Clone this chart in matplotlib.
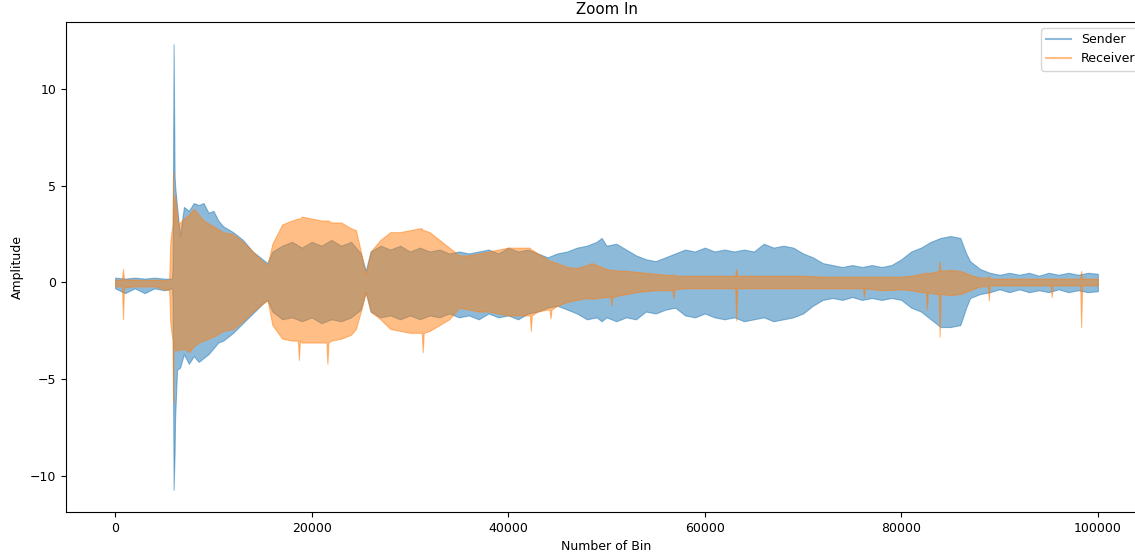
import matplotlib
matplotlib.use("Agg")
import matplotlib.pyplot as plt
from matplotlib.lines import Line2D
import numpy as np

title = "Zoom In"
x_label = "Number of Bin"
y_label = "Amplitude"
series_names = ["Sender", "Receiver"]

# Sender envelope: bin position, upper and lower amplitude
sender_x = [0, 1000, 2000, 3000, 4000, 5000, 5800, 5850, 5950, 6050, 6100, 6300, 6600, 7000, 7500,
            8000, 8500, 9000, 9500, 10000, 10500, 11000, 12000, 13000, 14000, 15000, 15500,
            16000, 17000, 18000, 19000, 20000, 21000, 22000, 23000, 24000, 25000, 25500, 26000,
            27000, 28000, 29000, 30000, 31000, 32000, 33000, 34000, 35000, 36000, 37000, 38000,
            39000, 40000, 41000, 42000, 43000, 44000, 45000, 46000, 47000, 48000, 49000, 49500,
            50000, 51000, 52000, 53000, 54000, 55000, 56000, 57000, 58000, 59000, 60000, 61000,
            62000, 63000, 64000, 65000, 66000, 67000, 68000, 69000, 70000, 71000, 72000, 73000,
            74000, 75000, 76000, 77000, 78000, 79000, 80000, 81000, 82000, 83000, 84000, 85000,
            86000, 86600, 87000, 88000, 89000, 90000, 91000, 92000, 93000, 94000, 95000, 96000,
            97000, 98000, 99000, 99999]
sender_hi = [0.25, 0.20, 0.25, 0.20, 0.25, 0.20, 0.20, 1.0, 12.3, 5.5, 5.0, 3.9, 2.4, 3.9, 3.7,
             4.1, 4.0, 4.1, 3.6, 3.7, 3.2, 2.9, 2.6, 2.2, 1.6, 1.2, 1.0,
             1.6, 1.9, 2.1, 1.8, 2.1, 1.9, 2.2, 1.9, 2.1, 1.5, 0.6, 1.6,
             1.9, 1.7, 1.9, 1.6, 1.8, 1.6, 1.7, 1.5, 1.6, 1.5, 1.6, 1.7,
             1.5, 1.8, 1.6, 1.7, 1.5, 1.3, 1.5, 1.6, 1.8, 1.9, 2.1, 2.3,
             1.9, 2.0, 1.7, 1.4, 1.2, 1.1, 1.3, 1.5, 1.7, 1.6, 1.8, 1.6,
             1.7, 1.6, 1.7, 1.6, 2.0, 1.8, 1.9, 1.8, 1.5, 1.3, 1.0, 0.9,
             0.8, 0.9, 0.8, 0.9, 0.8, 0.9, 1.2, 1.6, 1.8, 2.1, 2.3, 2.4,
             2.3, 1.5, 1.1, 0.7, 0.5, 0.4, 0.5, 0.4, 0.5, 0.35, 0.5, 0.4,
             0.5, 0.4, 0.5, 0.45]
sender_lo = [-0.30, -0.55, -0.30, -0.55, -0.30, -0.40, -0.30, -1.0, -10.7, -8.8, -7.0, -4.5, -4.4, -3.7, -4.2,
             -3.8, -4.1, -3.9, -3.7, -3.4, -3.1, -3.0, -2.6, -2.1, -1.6, -1.1, -0.9,
             -1.5, -1.9, -1.8, -2.0, -1.8, -2.1, -1.9, -2.0, -1.8, -1.4, -0.5, -1.5,
             -1.8, -1.7, -1.9, -1.7, -1.9, -1.7, -1.8, -1.6, -1.8, -1.7, -1.9, -1.6,
             -1.8, -1.7, -1.9, -1.6, -1.5, -1.3, -1.2, -1.4, -1.6, -1.9, -1.8, -2.0,
             -1.8, -2.0, -1.8, -1.9, -1.5, -1.6, -1.4, -1.3, -1.7, -1.8, -1.6, -1.8,
             -1.9, -1.8, -2.0, -1.9, -1.8, -2.0, -1.9, -1.8, -1.6, -1.2, -0.9, -0.8,
             -0.9, -0.75, -0.9, -0.8, -0.9, -0.8, -0.9, -1.3, -1.5, -1.9, -2.3, -2.3,
             -2.2, -1.3, -0.8, -0.6, -0.5, -0.35, -0.5, -0.35, -0.5, -0.4, -0.5, -0.35,
             -0.5, -0.4, -0.5, -0.45]

# Receiver envelope
receiver_x = [0, 700, 800, 900, 2000, 3000, 4000, 5000, 5500, 5600, 5700, 5850, 5900, 5950, 6100,
              6400, 7000, 7500, 8000, 8500, 9000, 10000, 11000, 12000, 13000, 14000, 15000, 15500,
              16000, 17000, 18000, 18600, 18700, 18800, 19000, 20000, 21000, 21500, 21600, 21700,
              22000, 23000, 24000, 24500, 25000, 25500, 26000, 27000, 28000, 29000, 30000, 31000,
              31200, 31300, 31400, 32000, 33000, 34000, 35000, 36000, 37000, 38000, 39000, 40000,
              41000, 42000, 42200, 42300, 42400, 43000, 44000, 44200, 44300, 44400, 45000, 46000,
              47000, 48000, 48500, 49000, 50000, 50400, 50500, 50600, 51000, 52000, 53000, 54000,
              55000, 56000, 56700, 56800, 56900, 57000, 58000, 60000, 62000, 63100, 63200, 63300,
              64000, 66000, 68000, 70000, 72000, 74000, 76100, 76200, 76300, 78000, 80000, 81000,
              82000, 82500, 82600, 82700, 83000, 83800, 83900, 84000, 85000, 86000, 87000, 88000,
              88800, 88900, 89000, 92000, 95200, 95300, 95400, 98200, 98300, 98400, 99999]
receiver_hi = [0.15, 0.15, 0.7, 0.15, 0.15, 0.12, 0.15, 0.12, 0.15, 2.0, 2.5, 3.0, 5.7, 3.0, 4.5,
               3.0, 3.3, 3.5, 3.8, 3.5, 3.2, 2.9, 2.6, 2.5, 2.1, 1.6, 1.1, 0.9,
               2.0, 3.0, 3.2, 3.3, 3.3, 3.3, 3.4, 3.3, 3.2, 3.2, 3.2, 3.2,
               3.1, 3.1, 2.8, 2.7, 1.6, 0.4, 1.6, 2.2, 2.6, 2.6, 2.7, 2.8,
               2.8, 2.7, 2.7, 2.6, 2.2, 1.8, 1.4, 1.4, 1.5, 1.6, 1.7, 1.8,
               1.8, 1.8, 1.8, 1.7, 1.7, 1.5, 1.2, 1.1, 1.1, 1.1, 1.0, 0.8,
               0.75, 0.9, 1.0, 0.9, 0.7, 0.65, 0.65, 0.65, 0.62, 0.6, 0.55, 0.5,
               0.45, 0.4, 0.4, 0.4, 0.4, 0.35, 0.35, 0.35, 0.35, 0.35, 0.7, 0.35,
               0.35, 0.35, 0.35, 0.35, 0.3, 0.3, 0.3, 0.3, 0.3, 0.3, 0.3, 0.35,
               0.45, 0.5, 0.5, 0.5, 0.5, 0.6, 1.1, 0.6, 0.65, 0.6, 0.4, 0.25,
               0.25, 0.36, 0.2, 0.2, 0.2, 0.2, 0.2, 0.2, 0.6, 0.2, 0.2]
receiver_lo = [-0.2, -0.2, -1.9, -0.25, -0.2, -0.2, -0.2, -0.35, -0.4, -2.0, -2.5, -3.0, -6.2, -3.0, -3.5,
               -3.5, -3.4, -3.6, -3.3, -3.1, -3.0, -2.8, -2.5, -2.4, -2.0, -1.5, -1.1, -0.9,
               -2.2, -2.9, -3.0, -3.0, -4.0, -3.0, -3.1, -3.1, -3.1, -3.1, -4.2, -3.1,
               -3.0, -2.9, -2.7, -2.4, -1.5, -0.5, -1.5, -1.9, -2.4, -2.5, -2.6, -2.6,
               -2.6, -3.6, -2.6, -2.5, -2.2, -1.9, -1.3, -1.4, -1.5, -1.5, -1.6, -1.7,
               -1.7, -1.7, -1.7, -2.5, -1.7, -1.5, -1.4, -1.4, -1.85, -1.4, -1.2, -1.0,
               -0.9, -0.8, -0.85, -0.8, -0.75, -0.75, -1.2, -0.75, -0.7, -0.6, -0.5, -0.45,
               -0.4, -0.4, -0.4, -0.82, -0.38, -0.35, -0.3, -0.3, -0.3, -0.3, -1.95, -0.3,
               -0.3, -0.3, -0.3, -0.3, -0.3, -0.3, -0.3, -0.75, -0.3, -0.4, -0.35, -0.4,
               -0.5, -0.5, -1.4, -0.5, -0.55, -0.6, -2.8, -0.6, -0.65, -0.6, -0.4, -0.2,
               -0.2, -0.92, -0.15, -0.15, -0.15, -0.75, -0.15, -0.15, -2.3, -0.15, -0.15]

plt.rcParams["font.size"] = 9
plt.rcParams["savefig.bbox"] = "standard"
fig = plt.figure(figsize=(11.35, 5.58), dpi=100)
ax = fig.add_axes([66 / 1135, 46 / 558, 1081 / 1135, 490 / 558])

colors = ["#1f77b4", "#ff7f0e"]
ax.fill_between(sender_x, sender_lo, sender_hi, color=colors[0], alpha=0.5, linewidth=0.8)
ax.fill_between(receiver_x, receiver_lo, receiver_hi, color=colors[1], alpha=0.5, linewidth=0.8)

ax.set_xlim(-5000, 105000)
ax.spines["right"].set_visible(False)
ax.set_title(title)
ax.set_xlabel(x_label)
ax.set_ylabel(y_label)
ax.set_xticks([0, 20000, 40000, 60000, 80000, 100000])

handles = [Line2D([], [], color=c, alpha=0.5, lw=1.5) for c in colors]
ax.legend(handles, series_names, loc="upper right")

fig.savefig("out.png", dpi=100, bbox_inches=None)
